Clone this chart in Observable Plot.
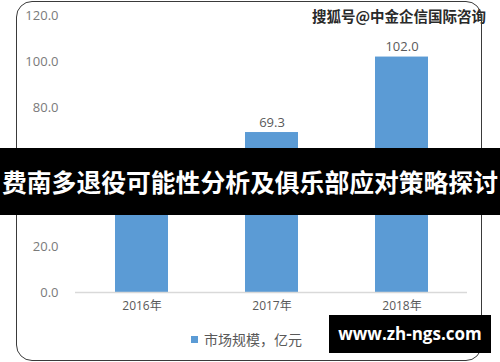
<!DOCTYPE html>
<html>
<head>
<meta charset="utf-8">
<script src="https://cdn.jsdelivr.net/npm/d3@7"></script>
<script src="https://cdn.jsdelivr.net/npm/@observablehq/plot@0.6"></script>
<style>
  html, body { margin: 0; padding: 0; background: #fff; }
  #wrap { position: relative; width: 500px; height: 362px; overflow: hidden; font-family: "Open Sans", "Noto Sans CJK SC", sans-serif; }
  #frame { position: absolute; left: 16px; top: 1px; width: 464px; height: 358px; border: 1.5px solid #3a3a3a; border-radius: 16px; box-sizing: content-box; pointer-events: none; }
  #chart { position: absolute; left: 0; top: 0; }
  .legend { position: absolute; left: 191px; top: 329px; font-size: 14px; color: #595959; font-family: "Noto Sans CJK SC", sans-serif; display: flex; align-items: center; }
  .legend .sw { width: 7px; height: 7px; background: #5b9bd5; margin-right: 6px; }
  .wm { position: absolute; left: 312px; top: 5px; font-size: 14.5px; font-weight: bold; color: #2a2a2a; font-family: "Noto Sans CJK SC", sans-serif; letter-spacing: 0px; }
  .band { position: absolute; left: 0; top: 148px; width: 500px; height: 67px; background: #000; }
  .bandIn { position: absolute; left: 16px; top: 148px; width: 466px; height: 67px; background: rgba(0,0,0,0.6); }
  .bandText { position: absolute; left: 0; top: 148px; width: 500px; height: 67px; line-height: 67px; text-align: center; color: #fff; font-weight: bold; font-size: 24.8px; font-family: "Noto Sans CJK SC", sans-serif; white-space: nowrap; }
  .url { position: absolute; left: 329px; top: 315px; width: 162px; height: 38px; background: #000; }
  .urlIn { position: absolute; left: 329px; top: 315px; width: 153px; height: 38px; background: rgba(0,0,0,0.6); }
  .urlText { position: absolute; left: 329px; top: 315px; width: 162px; height: 38px; line-height: 38px; text-align: center; color: #fff; font-weight: bold; font-size: 17px; font-family: "Open Sans", sans-serif; white-space: nowrap; }
</style>
</head>
<body>
<div id="wrap">
  <div id="chart"></div>
  <div class="wm">搜狐号@中金企信国际咨询</div>
  <div class="legend"><span class="sw"></span><span>市场规模，亿元</span></div>
  <div id="frame"></div>
  <div class="band"></div>
  <div class="bandIn"></div>
  <div class="bandText">费南多退役可能性分析及俱乐部应对策略探讨</div>
  <div class="url"></div>
  <div class="urlIn"></div>
  <div class="urlText">www.zh-ngs.com</div>
</div>
<script>
const years = ["2016年", "2017年", "2018年"];
const values = [39.3, 69.3, 102.0];
const yTicks = [0, 20, 40, 60, 80, 100, 120];
const seriesName = "市场规模，亿元";

const data = years.map((y, i) => ({year: y, value: values[i]}));

const chart = Plot.plot({
  width: 500,
  height: 362,
  marginTop: 15,
  marginBottom: 70,
  marginLeft: 75,
  marginRight: 33,
  style: {fontFamily: "'Open Sans', 'Noto Sans CJK SC', sans-serif", background: "transparent"},
  x: {domain: years, paddingInner: 0.595, paddingOuter: 0.2975, label: null},
  y: {domain: [0, 120], ticks: yTicks, label: null},
  marks: [
    Plot.axisY({ticks: yTicks, tickSize: 0, tickPadding: 17, tickFormat: d3.format(".1f"), fontSize: 13, color: "#7a7a7a", label: null}),
    Plot.axisX({tickSize: 0, tickPadding: 9, fontSize: 12, color: "#595959", label: null, fontFamily: "'Open Sans', 'Noto Sans CJK SC', sans-serif"}),
    Plot.barY(data, {x: "year", y: "value", fill: "#5b9bd5"}),
    Plot.ruleY([0], {stroke: "#d9d9d9", strokeWidth: 1.5}),
    Plot.text(data, {x: "year", y: "value", text: d => d.value.toFixed(1), dy: -10, fontSize: 13, fill: "#595959"})
  ]
});
document.getElementById("chart").appendChild(chart);
</script>
</body>
</html>
